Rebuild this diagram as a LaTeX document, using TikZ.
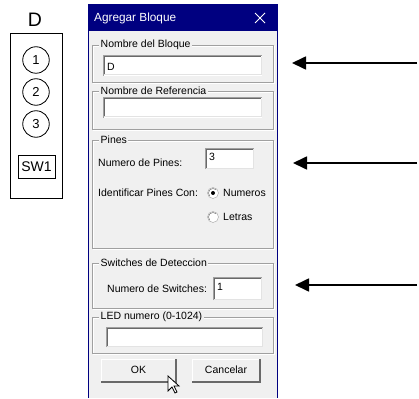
\documentclass[tikz,border=0pt]{standalone}
\usepackage{fontspec}
\setmainfont{Liberation Sans}
\usetikzlibrary{arrows.meta, positioning, calc}

\definecolor{winblue}{RGB}{0,0,128}
\definecolor{winface}{RGB}{240,240,240}
\definecolor{winframe}{RGB}{160,160,160}
\definecolor{winshadow}{RGB}{105,105,105}
\definecolor{winlight}{RGB}{227,227,227}

\tikzset{
  dlgtext/.style={font=\fontsize{10.5}{12}\selectfont, inner sep=0pt, anchor=west},
  grouplabel/.style={dlgtext, fill=winface, inner xsep=1.5pt, inner ysep=1pt},
  groupframe/.style={draw=winframe, line width=0.9pt},
  pinball/.style={draw, circle, line width=0.8pt, minimum size=26.5pt, inner sep=0pt,
    font=\fontsize{13}{15}\selectfont},
  pointer/.style={-{Triangle[length=14pt,width=13pt]}, line width=1.7pt},
}

% sunken edit field: x1 y1 x2 y2
\newcommand{\editbox}[4]{%
  \fill[white] (#1,#2) rectangle (#3,#4);
  \draw[winframe, line width=1pt] (#1,#4) -- (#1,#2) -- (#3,#2);
  \draw[winshadow, line width=1pt] (#1+1,#4-1) -- (#1+1,#2+1) -- (#3-1,#2+1);
  \draw[winlight, line width=1pt] (#1+1,#4-1) -- (#3-1,#4-1) -- (#3-1,#2+1);
}
% raised push button: x1 y1 x2 y2
\newcommand{\pushbox}[4]{%
  \fill[winface] (#1,#2) rectangle (#3,#4);
  \draw[white, line width=1pt] (#1,#4) -- (#1,#2) -- (#3,#2);
  \draw[winshadow, line width=1.6pt] (#1,#4) -- (#3,#4) -- (#3,#2);
}
% etched group frame with its caption
\newcommand{\groupbox}[6]{%
  \draw[white, line width=0.9pt] (#1+1,#2+1) rectangle (#3+1,#4+1);
  \draw[groupframe] (#1,#2) rectangle (#3,#4);
  \node[grouplabel] (#5) at (#1+7,#2) {#6};
}

\begin{document}
\begin{tikzpicture}[x=1pt, y=-1pt]
\useasboundingbox (0,0) rectangle (419,398);

% Block symbol
\node[font=\fontsize{19.5}{22}\selectfont, inner sep=0pt] (blkname) at (35,20) {D};
\draw[line width=0.8pt] (10,33) rectangle (62,198);
\node[pinball] (pin1) at (36,60) {1};
\node[pinball] (pin2) at (36,92) {2};
\node[pinball] (pin3) at (36,124) {3};
\node[draw, line width=0.8pt, minimum width=37pt, minimum height=23pt, inner sep=0pt,
  font=\fontsize{14}{16}\selectfont] (sw1) at (36.5,166.5) {SW1};

% Dialog window
\fill[winface] (88,31) rectangle (277,398);
\fill[winblue] (88,5) rectangle (277,31);
\draw[winblue, line width=1pt] (88,398) -- (88,5) -- (277,5) -- (277,398);
\node[font=\fontsize{11.8}{14}\selectfont, text=white, inner sep=0pt, anchor=west]
  (title) at (94,18) {Agregar Bloque};
\draw[white, line width=1pt] (255,13) -- (265,23);
\draw[white, line width=1pt] (255,23) -- (265,13);

% Nombre del Bloque
\groupbox{92}{45}{273}{82}{grpname}{Nombre del Bloque}
\editbox{103}{56}{262}{76}
\node[dlgtext] (nameval) at (107,66.5) {D};

% Nombre de Referencia
\groupbox{92}{91}{273}{129}{grpref}{Nombre de Referencia}
\editbox{103}{98}{262}{118}

% Pines
\groupbox{92}{140}{273}{248}{grppins}{Pines}
\node[dlgtext] (npins) at (98,163) {Numero de Pines:};
\editbox{205}{148}{254}{169}
\node[dlgtext] (npinsval) at (209,157) {3};
\node[dlgtext] (pinsby) at (98,193) {Identificar Pines Con:};
\draw[winframe, fill=white] (213,193) circle (5.5);
\draw[winshadow] (213,193) ++(135:4.5) arc (135:315:4.5);
\fill (213,193) circle (2);
\node[dlgtext] (optnum) at (223,193) {Numeros};
\draw[winframe, fill=white] (213,217) circle (5.5);
\draw[winshadow] (213,217) ++(135:4.5) arc (135:315:4.5);
\node[dlgtext] (optlet) at (223,217) {Letras};

% Switches de Deteccion
\groupbox{92}{263}{273}{308}{grpsw}{Switches de Deteccion}
\node[dlgtext] (nsw) at (107,289) {Numero de Switches:};
\editbox{213}{277}{262}{300}
\node[dlgtext] (nswval) at (217,287) {1};

% LED numero
\groupbox{92}{317}{273}{353}{grpled}{LED numero (0-1024)}
\editbox{106}{327}{263}{347}

% Buttons
\pushbox{101}{359}{176}{382}
\node[dlgtext, anchor=center] (okbtn) at (138.5,370) {OK};
\pushbox{192}{359}{260}{382}
\node[dlgtext, anchor=center] (cancelbtn) at (226,370) {Cancelar};

% Mouse cursor
\draw[fill=white, line width=0.8pt, line join=miter] (168,376) -- ++(0,15) -- ++(4,-4)
  -- ++(3,6) -- ++(2,-1) -- ++(-3,-6) -- ++(5,0) -- cycle;

% Arrows
\coordinate (a1s) at (417,63);  \coordinate (a1e) at (292,63);
\coordinate (a2s) at (417,163); \coordinate (a2e) at (293,163);
\coordinate (a3s) at (417,285); \coordinate (a3e) at (295,285);
\draw[pointer] (a1s) -- (a1e);
\draw[pointer] (a2s) -- (a2e);
\draw[pointer] (a3s) -- (a3e);
\end{tikzpicture}
\end{document}
